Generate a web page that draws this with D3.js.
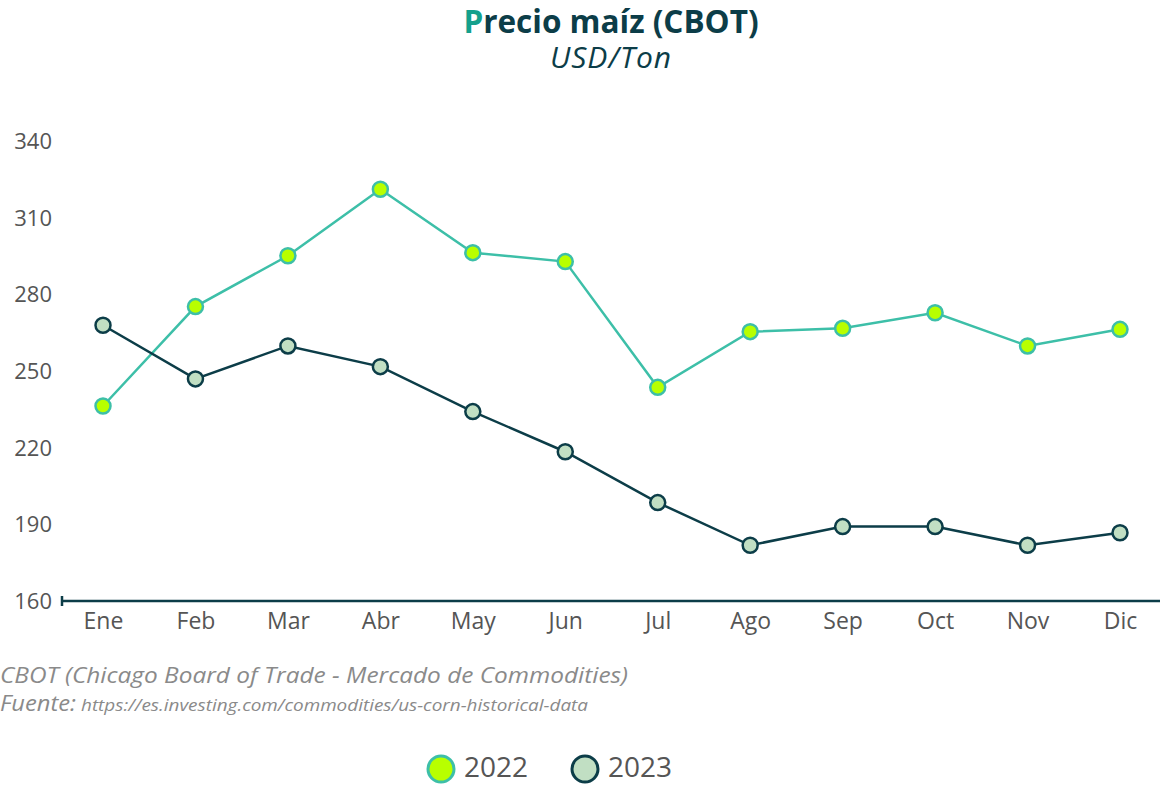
<!DOCTYPE html>
<html>
<head>
<meta charset="utf-8">
<script src="https://cdn.jsdelivr.net/npm/d3@7"></script>
<style>
  body { margin: 0; background: #fff; }
  svg { display: block; font-family: "Open Sans", Lato, sans-serif; }
</style>
</head>
<body>
<svg id="chart" width="1160" height="785"></svg>
<script>
// data
const months = ['Ene', 'Feb', 'Mar', 'Abr', 'May', 'Jun', 'Jul', 'Ago', 'Sep', 'Oct', 'Nov', 'Dic'];
const values2022 = [236.5, 275.4, 295.3, 321.3, 296.5, 293.0, 243.8, 265.6, 266.9, 273.0, 260.0, 266.5];
const values2023 = [268.1, 247.1, 260.0, 251.9, 234.3, 218.6, 198.7, 182.0, 189.3, 189.3, 182.0, 186.9];
const yTicks = [160, 190, 220, 250, 280, 310, 340];
const seriesNames = ['2022', '2023'];

const dark = '#0c3d48';
const teal = '#3dbfa8';
const gray = '#555';

const svg = d3.select('#chart');

const x = d3.scalePoint().domain(months).range([103, 1120]);
const y = d3.scaleLinear().domain([160, 340]).range([601.5, 141.5]);

// title
const title = svg.append('text')
    .attr('x', 611).attr('y', 33)
    .attr('text-anchor', 'middle')
    .style('font-size', '31.5px').style('font-weight', 'bold')
    .attr('fill', dark);
title.append('tspan').attr('fill', '#14a08c').text('P');
title.append('tspan').text('recio maíz (CBOT)');

svg.append('text')
    .attr('x', 611).attr('y', 68)
    .attr('text-anchor', 'middle')
    .style('font-size', '30px').style('font-style', 'italic')
    .style('letter-spacing', '1px')
    .attr('fill', dark)
    .text('USD/Ton');

// y axis (labels only)
const yAxis = svg.append('g')
    .attr('transform', 'translate(52,0)')
    .call(d3.axisLeft(y).tickValues(yTicks).tickSize(0).tickPadding(0));
yAxis.select('.domain').remove();
yAxis.selectAll('text')
    .style('font-size', '22px')
    .style('font-family', '"Open Sans", sans-serif')
    .attr('fill', gray);

// x axis
const xAxis = svg.append('g')
    .attr('transform', 'translate(0,601)')
    .call(d3.axisBottom(x).tickSize(0).tickPadding(12));
xAxis.select('.domain').remove();
xAxis.selectAll('text')
    .style('font-size', '23px')
    .style('font-family', '"Open Sans", sans-serif')
    .attr('fill', gray);

svg.append('line')
    .attr('x1', 62).attr('x2', 1160)
    .attr('y1', 601).attr('y2', 601)
    .attr('stroke', dark).attr('stroke-width', 2.5);
svg.append('line')
    .attr('x1', 62).attr('x2', 62)
    .attr('y1', 596).attr('y2', 606)
    .attr('stroke', dark).attr('stroke-width', 2.5);

// lines + markers
const series = [
    {name: seriesNames[0], values: values2022, line: teal, fill: '#b8ff00', stroke: teal},
    {name: seriesNames[1], values: values2023, line: dark, fill: '#c1dfc3', stroke: dark}
];

const line = d3.line()
    .x((d, i) => x(months[i]))
    .y(d => y(d));

series.forEach(s => {
    svg.append('path')
        .datum(s.values)
        .attr('d', line)
        .attr('fill', 'none')
        .attr('stroke', s.line)
        .attr('stroke-width', 2.5);
    svg.selectAll(null)
        .data(s.values)
        .enter().append('circle')
        .attr('cx', (d, i) => x(months[i]))
        .attr('cy', d => y(d))
        .attr('r', 7.5)
        .attr('fill', s.fill)
        .attr('stroke', s.stroke)
        .attr('stroke-width', 2.5);
});

// notes
svg.append('text')
    .attr('x', 0).attr('y', 683)
    .style('font-size', '22px').style('font-style', 'italic')
    .attr('textLength', 628).attr('lengthAdjust', 'spacingAndGlyphs')
    .attr('fill', '#8a8a8a')
    .text('CBOT (Chicago Board of Trade - Mercado de Commodities)');
svg.append('text')
    .attr('x', 0).attr('y', 711)
    .style('font-size', '22px').style('font-style', 'italic')
    .attr('textLength', 76).attr('lengthAdjust', 'spacingAndGlyphs')
    .attr('fill', '#8a8a8a')
    .text('Fuente:');
svg.append('text')
    .attr('x', 81).attr('y', 711)
    .style('font-size', '17px').style('font-style', 'italic')
    .attr('textLength', 507).attr('lengthAdjust', 'spacingAndGlyphs')
    .attr('fill', '#8a8a8a')
    .text('https://es.investing.com/commodities/us-corn-historical-data');

// legend
const legendX = [441, 585];
series.forEach((s, i) => {
    svg.append('circle')
        .attr('cx', legendX[i]).attr('cy', 769)
        .attr('r', 13)
        .attr('fill', s.fill)
        .attr('stroke', s.stroke)
        .attr('stroke-width', 3);
    svg.append('text')
        .attr('x', legendX[i] + 23).attr('y', 777)
        .style('font-size', '28px')
        .attr('fill', gray)
        .text(s.name);
});
</script>
</body>
</html>
